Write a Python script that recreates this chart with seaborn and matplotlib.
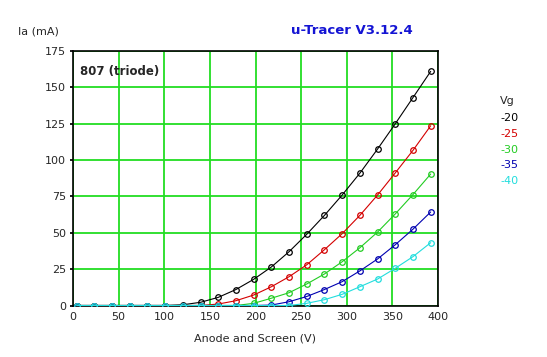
import matplotlib
matplotlib.use("Agg")
import matplotlib.pyplot as plt
import seaborn as sns
import pandas as pd
import numpy as np

# Data
anode_v = [4, 23.4, 42.8, 62.2, 81.6, 101, 120.4, 139.8, 159.2, 178.6, 198,
           217.4, 236.8, 256.2, 275.6, 295, 314.4, 333.8, 353.2, 372.6, 392]
ia_m20 = [0, 0, 0, 0, 0, 0, 0.5, 2.2, 5.6, 11, 18, 26.5, 37, 49, 62, 76, 91,
          107.6, 125, 143, 161]
ia_m25 = [0, 0, 0, 0, 0, 0, 0, 0, 1, 3.3, 7.2, 12.9, 19.8, 28, 38.4, 49.4,
          62, 76, 91.2, 106.7, 123.6]
ia_m30 = [0, 0, 0, 0, 0, 0, 0, 0, 0, 0, 1.5, 5, 8.8, 14.8, 21.7, 30.1, 39.7,
          50.5, 63, 76.3, 90.4]
ia_m35 = [0, 0, 0, 0, 0, 0, 0, 0, 0, 0, 0, 0.3, 2.6, 6.2, 11, 16.4, 23.8,
          32, 41.8, 52.5, 64.3]
ia_m40 = [0, 0, 0, 0, 0, 0, 0, 0, 0, 0, 0, 0, 0, 1.5, 4, 7.7, 12.9, 18.2,
          25.6, 33.6, 43.2]
vg_labels = ["-20", "-25", "-30", "-35", "-40"]
series = [ia_m20, ia_m25, ia_m30, ia_m35, ia_m40]
colors = ["#000000", "#d40000", "#22cc22", "#0000b0", "#22dddd"]
x_ticks = [0, 50, 100, 150, 200, 250, 300, 350, 400]
y_ticks = [0, 25, 50, 75, 100, 125, 150, 175]

sns.set_theme(style="white")
plt.rcParams["font.family"] = ["DejaVu Sans"]

fig = plt.figure(figsize=(5.47, 3.57), dpi=100)
ax = fig.add_axes([73/547, 1-305.5/357, (438-73)/547, (305.5-51)/357])

frames = []
for lab, vals in zip(vg_labels, series):
    frames.append(pd.DataFrame({"Va": anode_v, "Ia": vals, "Vg": lab}))
df = pd.concat(frames, ignore_index=True)

for i, (lab, col) in enumerate(zip(vg_labels, colors)):
    sub = df[df["Vg"] == lab]
    sns.lineplot(data=sub, x="Va", y="Ia", ax=ax, color=col, lw=0.8,
                 marker="o", markersize=4, markerfacecolor="none",
                 markeredgecolor=col, markeredgewidth=0.9,
                 estimator=None, sort=False, legend=False, zorder=3+i)

ax.set_xlim(0, 400)
ax.set_ylim(0, 175)
ax.set_xticks(x_ticks)
ax.set_yticks(y_ticks)
ax.grid(True, color="#22dd22", lw=1.3)
ax.set_axisbelow(True)
for s in ax.spines.values():
    s.set_color("black")
    s.set_linewidth(1.2)
ax.tick_params(axis="both", labelsize=8, length=2, color="black", pad=3,
               direction="out", left=True, bottom=False)
ax.set_xlabel("Anode and Screen (V)", fontsize=8, labelpad=8)
ax.set_ylabel("")

fig.text(18/547, 1-31/357, "Ia (mA)", fontsize=8, va="center", ha="left")
fig.text(352/547, 1-31/357, "u-Tracer V3.12.4", fontsize=9.5,
         color="#1414d4", fontweight="bold", va="center", ha="center")
ax.text(80/547, 1-71/357, "807 (triode)", transform=fig.transFigure,
        fontsize=8.5, fontweight="bold", va="center", ha="left")

fig.text(500/547, 1-101/357, "Vg", fontsize=8, va="center", ha="left")
for j, (lab, col) in enumerate(zip(vg_labels, colors)):
    fig.text(500/547, 1-(118+15.8*j)/357, lab, fontsize=8, color=col,
             va="center", ha="left")

fig.savefig("out.png", dpi=100, facecolor="white")
